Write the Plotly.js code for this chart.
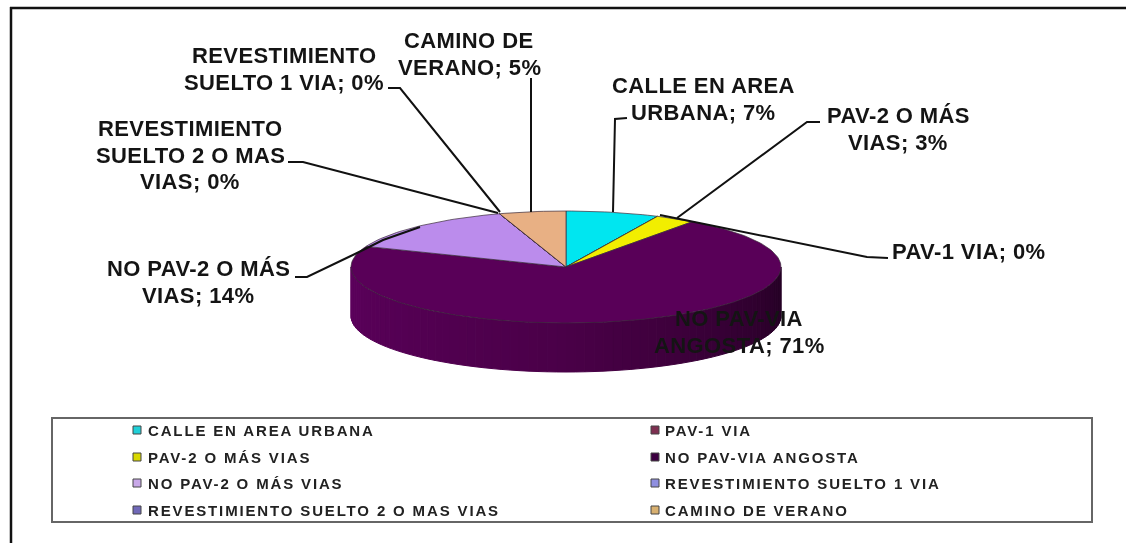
<!DOCTYPE html>
<html><head><meta charset="utf-8">
<script src="https://cdn.plot.ly/plotly-3.0.1.min.js"></script>
<style>
html,body{margin:0;padding:0;background:#fff}
#chart{width:1126px;height:543px;filter:blur(0.7px)}
text.annotation-text{letter-spacing:0.4px}
text.annotation-text[style*="font-size: 15px"]{letter-spacing:1.85px}
</style></head><body><div id="chart"></div>
<script>
// --- data ---
const categories = ["CALLE EN AREA URBANA","PAV-1 VIA","PAV-2 O MÁS VIAS","NO PAV-VIA ANGOSTA","NO PAV-2 O MÁS VIAS","REVESTIMIENTO SUELTO 1 VIA","REVESTIMIENTO SUELTO 2 O MAS VIAS","CAMINO DE VERANO"];
const values = [7,0,3,71,14,0,0,5];
const sliceColors = ["#00e6f0","#7d2f50","#f2ee00","#590058","#bb8cec","#8f8fe0","#8078c8","#e8b084"];
const swatchColors = ["#20d0d8","#7d2f50","#d8d800","#3c0040","#c8a8e8","#8f8fe0","#7068b8","#d8b070"];
const labelLines = [
 ["CALLE EN AREA","URBANA; 7%"],
 ["PAV-1 VIA; 0%"],
 ["PAV-2 O MÁS","VIAS; 3%"],
 ["NO PAV-VIA","ANGOSTA; 71%"],
 ["NO PAV-2 O MÁS","VIAS; 14%"],
 ["REVESTIMIENTO","SUELTO 1 VIA; 0%"],
 ["REVESTIMIENTO","SUELTO 2 O MAS","VIAS; 0%"],
 ["CAMINO DE","VERANO; 5%"]
];

// --- layout geometry (pixels of the 1126x543 page) ---
const cx=566, cy=267, rx=215, ry=56, depth=49;
const labelPos = [[703,99],[969,251],[898,129],[739,332],[198,282],[284,69],[190,155],[469,54]];
const lineStep = 26.5;
const leaderPaths = [
 [[627,118],[615,119],[613,212]],
 [[888,258],[867,257],[660,215]],
 [[820,122],[807,122],[677,218]],
 [[295,277],[307,277],[357,253],[383,240],[420,227]],
 [[388,88],[400,88],[500,212]],
 [[288,162],[303,162],[498,213]],
 [[531,78],[531,212]]
];
const legendRows=[430,457,483,510], legendCols=[137,655], legendTextX=[146,663];

// --- helpers ---
const pt=(deg,dy)=>{const a=deg*Math.PI/180;return [cx+rx*Math.sin(a), cy-ry*Math.cos(a)+(dy||0)];};
const hex=(a,b,t)=>{const p=s=>[1,3,5].map(i=>parseInt(s.substr(i,2),16));const A=p(a),B=p(b);
  return 'rgb('+A.map((v,i)=>Math.round(v+(B[i]-v)*t)).join(',')+')';};
const traces=[];

// side wall: the visible front half carries the colour of the slice above it
const total=values.reduce((s,v)=>s+v,0);
const wallSteps=72;
for(let i=0;i<wallSteps;i++){
  const a0=90+180*i/wallSteps, a1=90+180*(i+1)/wallSteps;
  const p=[pt(a0),pt(a1),pt(a1,depth),pt(a0,depth),pt(a0)];
  const t=i/(wallSteps-1); // 0 = right, 1 = left
  const col=t<0.5?hex("#240024","#4a0048",t/0.5):hex("#4a0048","#5c005c",(t-0.5)/0.5);
  traces.push({type:'scatter',mode:'lines',x:p.map(q=>q[0]),y:p.map(q=>q[1]),fill:'toself',fillcolor:col,
    line:{color:col,width:1},hoverinfo:'skip',showlegend:false});
}

// top face slices, computed from the values
let acc=0;
values.forEach((v,i)=>{
  const start=acc/total*360, end=(acc+v)/total*360; acc+=v;
  const xs=[cx], ys=[cy];
  const n=Math.max(1,Math.ceil((end-start)/1.5));
  for(let k=0;k<=n;k++){const q=pt(start+(end-start)*k/n);xs.push(q[0]);ys.push(q[1]);}
  xs.push(cx);ys.push(cy);
  traces.push({type:'scatter',mode:'lines',x:xs,y:ys,fill:'toself',fillcolor:sliceColors[i],
    line:{color:'#3a2a3a',width:0.7},name:categories[i],hoverinfo:'name',showlegend:false});
});

// legend swatches
traces.push({type:'scatter',mode:'markers',hoverinfo:'skip',showlegend:false,
  x:categories.map((c,i)=>legendCols[i%2]),
  y:categories.map((c,i)=>legendRows[Math.floor(i/2)]),
  marker:{symbol:'square',size:8,color:swatchColors,line:{color:'#444',width:1}}});

const shapes=[
 {type:'line',xref:'x',yref:'y',x0:10,y0:8,x1:1126,y1:8,line:{color:'#111',width:2.5}},
 {type:'line',xref:'x',yref:'y',x0:11,y0:7,x1:11,y1:543,line:{color:'#111',width:2.5}},
 {type:'rect',xref:'x',yref:'y',x0:52,y0:418,x1:1092,y1:522,line:{color:'#666',width:2},fillcolor:'#fff',layer:'below'}
];
leaderPaths.forEach(p=>{
  shapes.push({type:'path',xref:'x',yref:'y',layer:'above',line:{color:'#111',width:2},
    path:'M'+p.map(q=>q[0]+','+q[1]).join('L')});
});

const annotations=[];
labelLines.forEach((lines,i)=>{
  lines.forEach((t,k)=>{
    annotations.push({xref:'x',yref:'y',x:labelPos[i][0],y:labelPos[i][1]+(k-(lines.length-1)/2)*lineStep,text:t,showarrow:false,
      xanchor:'center',yanchor:'middle',align:'center',
      font:{family:'"Liberation Sans",Arial,sans-serif',size:22,weight:700,color:'#141414'}});
  });
});
categories.forEach((c,i)=>{
  annotations.push({xref:'x',yref:'y',x:legendTextX[i%2],y:legendRows[Math.floor(i/2)],text:c,showarrow:false,
    xanchor:'left',yanchor:'middle',align:'left',
    font:{family:'"Liberation Sans",Arial,sans-serif',size:15,weight:700,color:'#222'}});
});

const layout={
  width:1126,height:543,margin:{l:0,r:0,t:0,b:0},showlegend:false,
  paper_bgcolor:'#fff',plot_bgcolor:'#fff',
  xaxis:{range:[0,1126],visible:false,fixedrange:true},
  yaxis:{range:[543,0],visible:false,fixedrange:true},
  shapes,annotations
};
Plotly.newPlot('chart',traces,layout,{displayModeBar:false});
</script></body></html>
